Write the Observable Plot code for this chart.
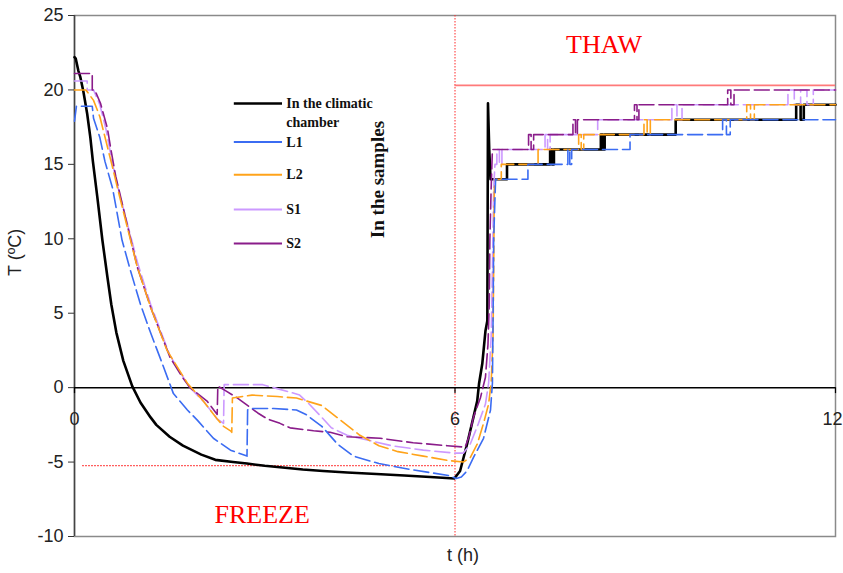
<!DOCTYPE html>
<html><head><meta charset="utf-8">
<script src="https://cdn.jsdelivr.net/npm/d3@7"></script>
<script src="https://cdn.jsdelivr.net/npm/@observablehq/plot@0.6"></script>
<style>
html,body{margin:0;padding:0;background:#fff;}
#chart{width:843px;height:573px;}
</style></head><body><div id="chart"></div>
<script>
// ---- data: [t (h), T (°C)] ----
const chamber = [[0,22.2],[0.02,22.1],[0.06,21.3],[0.09,20.9],[0.14,19.9],[0.2,18.4],[0.25,16.8],[0.29,15.2],[0.36,12.8],[0.44,9.9],[0.52,7.4],[0.58,5.6],[0.66,3.7],[0.77,1.8],[0.91,0.1],[1.04,-1.0],[1.2,-2.0],[1.29,-2.5],[1.5,-3.3],[1.71,-3.9],[2.0,-4.5],[2.22,-4.85],[2.5,-5.0],[2.72,-5.1],[3.0,-5.25],[3.24,-5.35],[3.6,-5.5],[3.92,-5.6],[4.3,-5.7],[4.76,-5.8],[5.2,-5.9],[5.61,-6.0],[5.99,-6.1],[6.08,-5.6],[6.19,-3.8],[6.29,-2.0],[6.35,-0.9],[6.38,0.3],[6.43,1.6],[6.48,3.8],[6.51,4.5],[6.52,19.1],[6.54,16],[6.56,14],[6.82,14],[6.82,15],[7.5,15],[7.5,16],[7.53,16],[7.53,15],[7.56,15],[7.56,16],[8.3,16],[8.3,17],[8.33,17],[8.33,16],[8.36,16],[8.36,17],[9.48,17],[9.48,18],[11.38,18],[11.38,19],[11.45,19],[11.45,18],[11.5,18],[11.5,19],[12,19]];
const L1 = [[0,17.9],[0.03,18.9],[0.28,18.9],[0.3,18.1],[0.4,16.8],[0.48,15.2],[0.6,13.4],[0.75,9.9],[0.88,7.9],[1.04,5.6],[1.19,3.8],[1.35,2.0],[1.56,-0.4],[1.78,-1.5],[1.94,-2.2],[2.19,-3.4],[2.46,-4.2],[2.72,-4.6],[2.73,-1.5],[2.77,-1.4],[3.14,-1.4],[3.5,-1.5],[3.65,-1.8],[3.9,-2.6],[4.15,-3.8],[4.4,-4.6],[4.8,-5.1],[5.3,-5.5],[5.9,-5.9],[6.02,-6.1],[6.1,-6.0],[6.19,-5.6],[6.29,-4.7],[6.45,-3.4],[6.56,-1.5],[6.59,0.3],[6.6,4.5],[6.61,10],[6.64,14],[7.15,14],[7.15,15],[7.78,15],[7.78,16],[7.81,16],[7.81,15],[7.84,15],[7.84,16],[8.76,16],[8.76,17],[10.22,17],[10.22,18],[10.28,18],[10.28,17],[10.34,17],[10.34,18],[12,18]];
const L2 = [[0,20],[0.18,20],[0.3,19.3],[0.4,18.2],[0.5,16.5],[0.6,14.8],[0.69,13.2],[0.99,8.1],[1.2,5.4],[1.46,2.5],[1.78,0.3],[2.03,-0.9],[2.25,-2.1],[2.35,-2.6],[2.46,-2.9],[2.48,-3.0],[2.49,-0.7],[2.8,-0.5],[3.2,-0.6],[3.5,-0.7],[3.66,-0.9],[3.9,-1.2],[4.2,-2.2],[4.5,-3.2],[4.8,-3.9],[5.1,-4.3],[5.5,-4.6],[5.9,-4.9],[6.13,-5.0],[6.24,-4.7],[6.35,-3.8],[6.45,-2.4],[6.53,-1.1],[6.57,0.3],[6.6,3.4],[6.61,7.9],[6.62,13.4],[6.64,14],[6.73,14],[6.73,15],[7.31,15],[7.31,16],[7.95,16],[7.95,17],[7.99,17],[7.99,16],[8.03,16],[8.03,17],[8.98,17],[8.98,18],[9.03,18],[9.03,17],[9.08,17],[9.08,18],[10.6,18],[10.6,19],[10.66,19],[10.66,18],[10.72,18],[10.72,19],[12,19]];
const S1 = [[0,20.6],[0.2,20.6],[0.2,20],[0.3,20],[0.4,19],[0.5,17.3],[0.6,15],[0.7,13.2],[1.0,8.3],[1.2,5.6],[1.5,2.2],[1.8,0.1],[2.05,-1.0],[2.25,-2.1],[2.35,-2.4],[2.36,0.2],[2.6,0.2],[2.97,0.2],[3.14,0],[3.4,-0.3],[3.55,-0.5],[3.7,-1.1],[3.9,-2.0],[4.05,-2.7],[4.3,-3.2],[4.6,-3.5],[5.0,-3.9],[5.5,-4.2],[6.0,-4.4],[6.13,-4.4],[6.24,-3.8],[6.37,-2.4],[6.48,-1.1],[6.53,0.3],[6.57,3.4],[6.59,7.9],[6.61,13.4],[6.63,15],[6.66,15],[6.66,16],[6.7,16],[6.7,15],[6.74,15],[6.74,16],[7.42,16],[7.42,17],[7.46,17],[7.46,16],[7.5,16],[7.5,17],[8.25,17],[8.25,18],[9.42,18],[9.42,19],[9.5,19],[9.5,18],[9.58,18],[9.58,19],[11.25,19],[11.25,20],[11.35,20],[11.35,19],[11.45,19],[11.45,20],[11.55,20],[11.55,19],[11.65,19],[11.65,20],[12,20]];
const S2 = [[0,21.1],[0.28,21.1],[0.28,20],[0.32,20],[0.41,19.1],[0.52,17.4],[0.57,16.1],[0.65,14.2],[0.99,8.1],[1.2,5.4],[1.51,2.0],[1.7,0.7],[1.82,0],[2.09,-0.9],[2.25,-1.8],[2.26,0.1],[2.38,-0.2],[2.57,-0.7],[2.89,-1.7],[3.04,-2.1],[3.24,-2.4],[3.4,-2.7],[3.77,-2.9],[4.03,-3.0],[4.3,-3.3],[4.82,-3.4],[5.34,-3.7],[5.88,-3.9],[6.16,-4.0],[6.22,-3.3],[6.29,-2.0],[6.4,-0.7],[6.48,0.7],[6.52,2.9],[6.54,5.6],[6.55,10],[6.57,13.4],[6.59,16],[7.16,16],[7.16,17],[7.2,17],[7.2,16],[7.24,16],[7.24,17],[7.86,17],[7.86,18],[7.9,18],[7.9,17],[7.93,17],[7.93,18],[8.83,18],[8.83,19],[8.87,19],[8.87,18],[8.9,18],[8.9,19],[10.3,19],[10.3,20],[10.35,20],[10.35,19],[10.4,19],[10.4,20],[12,20]];

const seriesNames = ["In the climatic chamber", "L1", "L2", "S1", "S2"];
const xTicks = [0, 6, 12];
const yTicks = [-10, -5, 0, 5, 10, 15, 20, 25];
const freezeLevel = -5.24;   // red dotted reference
const thawLevel = 20.3;      // red reference
const phaseChange = 6;

// ---- styles ----
const colors = {"In the climatic chamber":"#000000", L1:"#3b6cf2", L2:"#ffa31a", S1:"#cc99ff", S2:"#8a1c8a"};
const SERIF = "'Liberation Serif','Times New Roman',serif";
const SANS = "'Liberation Sans',Arial,sans-serif";

const rows = [];
[chamber, L1, L2, S1, S2].forEach((arr, i) => arr.forEach(([t, T]) => rows.push({series: seriesNames[i], t, T})));
const of = s => rows.filter(r => r.series === s);

// legend / annotation placement (chart units)
const legendRows = [
  {s:"In the climatic chamber", T:19.09},
  {s:"L1", T:16.5}, {s:"L2", T:14.3}, {s:"S1", T:11.96}, {s:"S2", T:9.68}
];
const legX1 = 2.52, legX2 = 3.28, legTX = 3.34;

const dash = "15,5";
const sampleMark = s => Plot.line(of(s), {x:"t", y:"T", stroke: colors[s], strokeWidth:1.6, strokeDasharray: dash});

const chart = Plot.plot({
  width: 843, height: 573,
  marginLeft: 74, marginRight: 8, marginTop: 15, marginBottom: 37,
  x: {domain:[0,12], axis:null},
  y: {domain:[-10,25], axis:null},
  style: {fontFamily: SANS, background:"#fff", color:"#222", overflow:"visible"},
  marks: [
    Plot.frame({stroke:"#8a8a8a", strokeWidth:1.5}),
    Plot.ruleX([0], {stroke:"#444", strokeWidth:1.5}),
    Plot.axisY({ticks: yTicks, tickSize:6, tickPadding:5, tickFormat: d => String(d), fontSize:18, label:null, stroke:"#333"}),
    // red references
    Plot.ruleX([phaseChange], {stroke:"#ff2a2a", strokeWidth:1, strokeDasharray:"1.5,1.5"}),
    Plot.ruleY([freezeLevel], {x1:0.13, x2:phaseChange, stroke:"#ff2a2a", strokeWidth:1.2, strokeDasharray:"1.5,1.5"}),
    Plot.ruleY([thawLevel], {x1:phaseChange, x2:12, stroke:"#ff7a7a", strokeWidth:1.8}),
    // zero line + x ticks
    Plot.ruleY([0], {stroke:"#000", strokeWidth:1.5}),
    Plot.ruleX(xTicks, {y1:0, y2:-0.4, stroke:"#000", strokeWidth:1.2}),
    Plot.text(xTicks.filter(d => d < 12), {x: d => d, y: 0, dy: 32, text: d => String(d), fontSize:18, fill:"#222"}),
    Plot.text(xTicks.filter(d => d === 12), {x: d => d, y: 0, dy: 32, dx: 7, textAnchor:"end", text: d => String(d), fontSize:18, fill:"#222"}),
    // series
    Plot.line(of("In the climatic chamber"), {x:"t", y:"T", stroke:"#000", strokeWidth:2.6}),
    sampleMark("S1"), sampleMark("S2"), sampleMark("L2"), sampleMark("L1"),
    // legend
    Plot.ruleY(legendRows, {y:"T", x1:legX1, x2:legX2, stroke: d => colors[d.s], strokeWidth: d => d.s === "In the climatic chamber" ? 2.6 : 2,
      strokeDasharray: d => d.s === "In the climatic chamber" ? null : "17,8"}),
    Plot.text(legendRows, {x: legTX, y:"T", text: d => d.s === "In the climatic chamber" ? "In the climatic" : d.s,
      textAnchor:"start", fontFamily: SERIF, fontWeight:"bold", fontSize:14, fill:"#111"}),
    Plot.text(["chamber"], {x: legTX, y: 17.8, text: d => d, textAnchor:"start", fontFamily: SERIF, fontWeight:"bold", fontSize:14, fill:"#111"}),
    Plot.text(["In the samples"], {x: 4.79, y: 13.98, text: d => d, rotate: -90, fontFamily: SERIF, fontWeight:"bold", fontSize:19, fill:"#111"}),
    // phase annotations
    Plot.text(["THAW"], {x: 8.35, y: 23.05, text: d => d, fontFamily: SERIF, fontSize:26, fill:"#ff0000"}),
    Plot.text(["FREEZE"], {x: 2.96, y: -8.53, text: d => d, fontFamily: SERIF, fontSize:26, fill:"#ff0000"}),
    // axis labels
    Plot.text(["T (ºC)"], {frameAnchor:"left", dx:-59, rotate:-90, text: d => d, fontSize:18, fill:"#222"}),
    Plot.text(["t (h)"], {frameAnchor:"bottom", dx:8, dy:24, text: d => d, fontSize:18, fill:"#222"})
  ]
});
document.getElementById("chart").appendChild(chart);
</script>
</body></html>
